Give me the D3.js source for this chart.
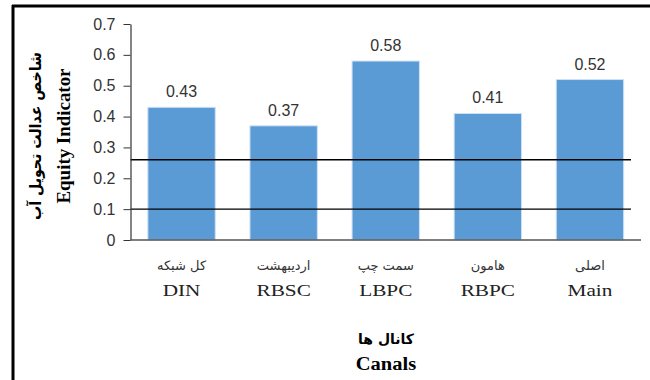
<!DOCTYPE html>
<html>
<head>
<meta charset="utf-8">
<script src="https://cdnjs.cloudflare.com/ajax/libs/d3/7.8.5/d3.min.js"></script>
<style>
  html, body { margin: 0; padding: 0; background: #fff; }
  svg { display: block; }
</style>
</head>
<body>
<svg id="chart" width="650" height="380"></svg>
<script>
// Canals (English code and Persian name) and their equity indicator values
const codes = ["DIN", "RBSC", "LBPC", "RBPC", "Main"];
const namesFa = ["کل شبکه", "اردیبهشت", "سمت چپ", "هامون", "اصلی"];
const values = [0.43, 0.37, 0.58, 0.41, 0.52];
const yTicks = [0, 0.1, 0.2, 0.3, 0.4, 0.5, 0.6, 0.7];
const refLines = [0.26, 0.1];

const svg = d3.select("#chart");
const plotLeft = 130.5, plotRight = 641, plotTop = 24, plotBottom = 240;
const serif = "Liberation Serif, Times New Roman, serif";
const sans = "Liberation Sans, Arial, sans-serif";
const arabic = "DejaVu Sans, sans-serif";

const x = d3.scaleBand().domain(codes).range([plotLeft, plotRight]).paddingInner(0.34).paddingOuter(0.17);
const y = d3.scaleLinear().domain([0, 0.7]).range([plotBottom, plotTop]);

// frame on top and left edge
svg.append("line").attr("x1", 12).attr("x2", 650).attr("y1", 6).attr("y2", 6)
  .attr("stroke", "#000").attr("stroke-width", 3);
svg.append("line").attr("x1", 13).attr("x2", 13).attr("y1", 5).attr("y2", 380)
  .attr("stroke", "#000").attr("stroke-width", 3);

// bars
svg.selectAll("rect.bar").data(values).enter().append("rect")
  .attr("class", "bar")
  .attr("x", (d, i) => x(codes[i]))
  .attr("width", x.bandwidth())
  .attr("y", d => y(d))
  .attr("height", d => y(0) - y(d))
  .attr("fill", "#5B9BD5")
  .attr("stroke", "#cfe0f3").attr("stroke-width", 1);

// reference lines
svg.selectAll("line.ref").data(refLines).enter().append("line")
  .attr("class", "ref")
  .attr("x1", plotLeft).attr("x2", 631)
  .attr("y1", d => y(d)).attr("y2", d => y(d))
  .attr("stroke", "#000").attr("stroke-width", 1.3);

// y axis
const yAxis = d3.axisLeft(y).tickValues(yTicks).tickSize(7).tickSizeOuter(0)
  .tickFormat(d => d === 0 ? "0" : d3.format(".1f")(d));
const gy = svg.append("g").attr("transform", `translate(${plotLeft},0)`).call(yAxis);
gy.select(".domain").attr("stroke", "#333").attr("stroke-width", 1.2);
gy.selectAll(".tick line").attr("stroke", "#333");
gy.selectAll(".tick text").attr("font-family", sans)
  .attr("font-size", 16).attr("fill", "#333").attr("x", -15);

// x axis baseline
svg.append("line").attr("x1", plotLeft).attr("x2", plotRight).attr("y1", plotBottom).attr("y2", plotBottom)
  .attr("stroke", "#555").attr("stroke-width", 1.3);

// value labels
svg.selectAll("text.val").data(values).enter().append("text")
  .attr("class", "val")
  .attr("x", (d, i) => x(codes[i]) + x.bandwidth() / 2)
  .attr("y", d => y(d) - 10)
  .attr("text-anchor", "middle")
  .attr("font-family", sans)
  .attr("font-size", 16).attr("fill", "#333")
  .text(d => d3.format(".2f")(d));

// category labels: Persian above, English below
codes.forEach((c, i) => {
  const cx = x(c) + x.bandwidth() / 2;
  svg.append("text").attr("x", cx).attr("y", 270).attr("text-anchor", "middle")
    .attr("font-family", arabic).attr("font-size", 13).attr("fill", "#333")
    .text(namesFa[i]);
  svg.append("text").attr("transform", `translate(${cx},296) scale(1.25,1)`).attr("text-anchor", "middle")
    .attr("font-family", serif).attr("font-size", 17).attr("fill", "#222")
    .text(c);
});

// x axis title
svg.append("text").attr("x", 386).attr("y", 344).attr("text-anchor", "middle")
  .attr("font-family", arabic).attr("font-size", 14).attr("font-weight", "bold")
  .text("کانال ها");
svg.append("text").attr("transform", "translate(386,370) scale(1.08,1)").attr("text-anchor", "middle")
  .attr("font-family", serif).attr("font-size", 19).attr("font-weight", "bold")
  .text("Canals");

// y axis title
svg.append("text").attr("transform", "translate(41,136) rotate(-90)").attr("text-anchor", "middle")
  .attr("font-family", arabic).attr("font-size", 16).attr("font-weight", "bold")
  .attr("textLength", 168).attr("lengthAdjust", "spacingAndGlyphs")
  .text("شاخص عدالت تحویل آب");
svg.append("text").attr("transform", "translate(70,136) rotate(-90)").attr("text-anchor", "middle")
  .attr("font-family", serif).attr("font-size", 18).attr("font-weight", "bold")
  .attr("textLength", 135).attr("lengthAdjust", "spacingAndGlyphs")
  .text("Equity Indicator");
</script>
</body>
</html>
